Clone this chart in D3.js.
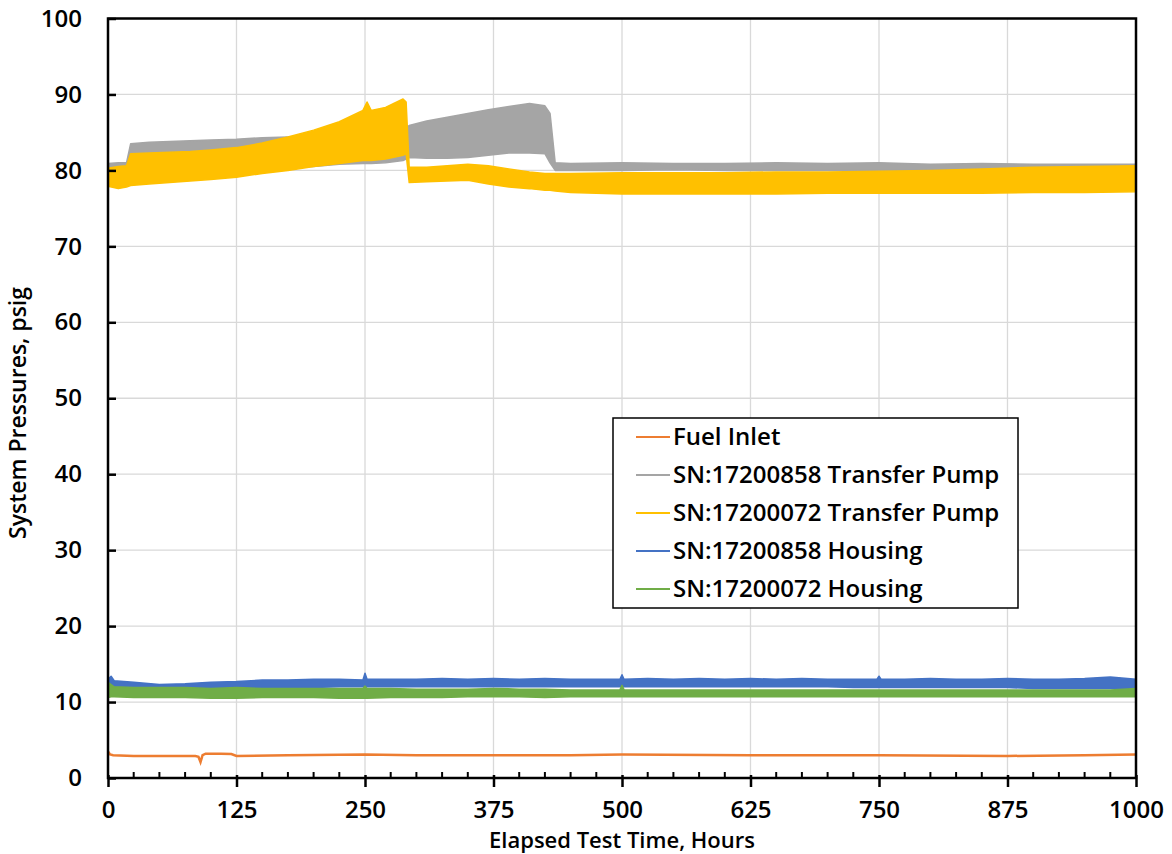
<!DOCTYPE html>
<html>
<head>
<meta charset="utf-8">
<script src="https://cdn.jsdelivr.net/npm/d3@7"></script>
<style>
  body { margin: 0; background: #fff; }
  text { font-family: "Open Sans", sans-serif; font-weight: 600; fill: #000; }
</style>
</head>
<body>
<div id="chart-area"></div>
<script>
// ---- data (psig vs hours) ----
var seriesNames = ["Fuel Inlet", "SN:17200858 Transfer Pump", "SN:17200072 Transfer Pump",
                   "SN:17200858 Housing", "SN:17200072 Housing"];
var seriesColors = ["#ED7D31", "#A5A5A5", "#FFC000", "#4472C4", "#70AD47"];

var xTicks = [0, 125, 250, 375, 500, 625, 750, 875, 1000];
var yTicks = [0, 10, 20, 30, 40, 50, 60, 70, 80, 90, 100];

// fuel inlet, a thin line
var fuelHours = [0, 2, 5, 25, 50, 85, 88, 90, 92, 95, 110, 120, 125, 175, 250, 300, 375, 450, 500, 625, 750, 875, 950, 1000];
var fuelVals  = [3.5, 3.1, 3.0, 2.9, 2.9, 2.9, 2.8, 2.1, 3.0, 3.2, 3.2, 3.15, 2.9, 3.0, 3.1, 3.0, 3.0, 3.0, 3.1, 3.0, 3.0, 2.9, 3.0, 3.1];

// transfer pumps: noisy bands, low / high envelope
var pumpHours = [0, 10, 18, 22, 40, 60, 80, 100, 125, 150, 175, 200, 225, 248, 252, 256, 270, 287, 290, 293, 310, 330, 350, 370, 390, 410, 425, 430, 435, 450, 500, 550, 600, 650, 700, 750, 800, 850, 900, 950, 1000];
var grayHi = [80.9, 81.0, 81.0, 83.5, 83.7, 83.8, 83.9, 84.0, 84.1, 84.3, 84.4, 84.5, 84.6, 84.8, 85.0, 84.9, 85.2, 85.5, 85.7, 85.9, 86.5, 87.0, 87.5, 88.0, 88.4, 88.8, 88.5, 87.5, 81.0, 80.9, 81.0, 80.9, 80.9, 81.0, 80.9, 81.0, 80.8, 80.9, 80.8, 80.8, 80.8];
var grayLo = [79.8, 79.6, 79.8, 80.2, 80.4, 80.4, 80.5, 80.5, 80.6, 80.5, 80.3, 80.5, 80.8, 80.9, 80.9, 80.9, 81.0, 81.3, 81.5, 81.7, 81.6, 81.6, 81.7, 82.0, 82.3, 82.3, 82.2, 81.0, 80.0, 80.0, 80.0, 80.1, 80.0, 80.0, 80.0, 80.0, 80.0, 80.0, 80.0, 80.0, 80.0];
var yellowHi = [80.3, 80.5, 80.6, 82.2, 82.3, 82.4, 82.5, 82.7, 83.0, 83.6, 84.4, 85.3, 86.4, 87.9, 89.0, 87.9, 88.3, 89.4, 89.0, 80.4, 80.4, 80.6, 80.8, 80.6, 80.2, 79.8, 79.6, 79.6, 79.6, 79.6, 79.7, 79.7, 79.7, 79.8, 79.8, 79.9, 80.0, 80.2, 80.4, 80.5, 80.6];
var yellowLo = [77.9, 77.6, 77.8, 78.0, 78.2, 78.4, 78.6, 78.8, 79.1, 79.6, 80.0, 80.5, 80.9, 81.3, 81.3, 81.3, 81.5, 82.0, 82.2, 78.4, 78.5, 78.6, 78.7, 78.2, 77.8, 77.6, 77.4, 77.4, 77.3, 77.1, 76.9, 76.9, 76.9, 76.9, 77.0, 77.0, 77.0, 77.0, 77.1, 77.1, 77.2];

// housings: noisy bands
var housingHours = [0, 3, 6, 25, 50, 75, 100, 125, 150, 175, 200, 225, 248, 250, 252, 275, 300, 325, 350, 375, 400, 425, 450, 475, 498, 500, 502, 525, 550, 575, 600, 625, 650, 675, 700, 725, 748, 750, 752, 775, 800, 825, 850, 875, 900, 925, 950, 975, 1000];
var blueHi = [13.0, 13.4, 12.8, 12.6, 12.3, 12.4, 12.6, 12.7, 12.9, 12.9, 13.0, 13.0, 12.9, 13.8, 13.0, 13.0, 13.0, 13.1, 13.0, 13.1, 13.0, 13.1, 13.0, 13.0, 13.0, 13.6, 13.0, 13.1, 13.0, 13.1, 13.0, 13.1, 13.0, 13.1, 13.0, 13.0, 13.0, 13.4, 13.0, 13.0, 13.1, 13.0, 13.0, 13.1, 13.0, 13.0, 13.1, 13.3, 13.0];
var blueLo = [11.8, 11.9, 11.8, 11.8, 11.8, 11.8, 11.8, 11.9, 11.9, 11.9, 11.9, 12.0, 12.0, 12.0, 12.0, 12.0, 12.0, 12.0, 12.0, 12.0, 12.0, 12.0, 12.0, 12.0, 12.0, 12.0, 12.0, 12.0, 12.0, 12.0, 12.0, 12.0, 12.0, 12.0, 12.0, 11.9, 11.9, 11.9, 11.9, 11.9, 11.9, 11.9, 11.9, 11.9, 11.8, 11.8, 11.8, 11.8, 11.8];
var greenHi = [12.6, 12.3, 12.0, 11.9, 11.9, 11.9, 11.8, 11.9, 11.8, 11.8, 11.8, 11.8, 11.8, 12.1, 11.8, 11.8, 11.7, 11.7, 11.7, 11.8, 11.7, 11.7, 11.6, 11.6, 11.6, 12.2, 11.6, 11.6, 11.6, 11.6, 11.6, 11.6, 11.6, 11.6, 11.6, 11.6, 11.6, 11.6, 11.6, 11.6, 11.6, 11.6, 11.6, 11.6, 11.6, 11.6, 11.6, 11.6, 11.8];
var greenLo = [10.6, 10.7, 10.7, 10.6, 10.6, 10.6, 10.5, 10.5, 10.6, 10.6, 10.6, 10.5, 10.5, 10.5, 10.5, 10.6, 10.6, 10.6, 10.7, 10.7, 10.7, 10.6, 10.7, 10.7, 10.7, 10.7, 10.7, 10.7, 10.7, 10.7, 10.7, 10.7, 10.7, 10.7, 10.7, 10.7, 10.7, 10.7, 10.7, 10.7, 10.7, 10.7, 10.7, 10.7, 10.7, 10.7, 10.7, 10.7, 10.7];

// ---- layout ----
var width = 1172, height = 854;
var plotLeft = 108, plotRight = 1136, plotTop = 18.5, plotBottom = 778;

var svg = d3.select("#chart-area").append("svg")
  .attr("width", width)
  .attr("height", height);

var x = d3.scaleLinear().domain([0, 1000]).range([plotLeft, plotRight]);
var y = d3.scaleLinear().domain([0, 100]).range([plotBottom, plotTop]);

// gridlines
svg.append("g").selectAll("line").data(yTicks.slice(1)).enter().append("line")
  .attr("x1", plotLeft).attr("x2", plotRight)
  .attr("y1", d => y(d)).attr("y2", d => y(d))
  .attr("stroke", "#d9d9d9").attr("stroke-width", 1.3);
svg.append("g").selectAll("line").data(xTicks.slice(1)).enter().append("line")
  .attr("x1", d => x(d)).attr("x2", d => x(d))
  .attr("y1", plotTop).attr("y2", plotBottom)
  .attr("stroke", "#d9d9d9").attr("stroke-width", 1.3);

// bands
function band(hours, lo, hi, color) {
  var pts = hours.map((h, i) => ({h: h, lo: lo[i], hi: hi[i]}));
  var area = d3.area().x(d => x(d.h)).y0(d => y(d.lo)).y1(d => y(d.hi));
  svg.append("path").datum(pts)
    .attr("d", area)
    .attr("fill", color)
    .attr("stroke", color)
    .attr("stroke-width", 1.5)
    .attr("stroke-linejoin", "round");
}

var fuelPts = fuelHours.map((h, i) => ({h: h, v: fuelVals[i]}));
svg.append("path").datum(fuelPts)
  .attr("d", d3.line().x(d => x(d.h)).y(d => y(d.v)))
  .attr("fill", "none")
  .attr("stroke", seriesColors[0])
  .attr("stroke-width", 2.5);

band(pumpHours, grayLo, grayHi, seriesColors[1]);
band(pumpHours, yellowLo, yellowHi, seriesColors[2]);
band(housingHours, blueLo, blueHi, seriesColors[3]);
band(housingHours, greenLo, greenHi, seriesColors[4]);

// plot frame
svg.append("rect")
  .attr("x", plotLeft).attr("y", plotTop)
  .attr("width", plotRight - plotLeft).attr("height", plotBottom - plotTop)
  .attr("fill", "none").attr("stroke", "#000").attr("stroke-width", 2.5);

// x axis
var xAxis = d3.axisBottom(x).tickValues(xTicks).tickSize(9).tickPadding(14).tickFormat(d3.format("d"));
var gx = svg.append("g").attr("transform", "translate(0," + plotBottom + ")").call(xAxis);
gx.select(".domain").remove();
gx.selectAll(".tick line").attr("y1", -3).attr("stroke", "#000").attr("stroke-width", 2.5);
gx.selectAll("text").style("font-size", "24px").attr("dy", "0.71em");

var minor = d3.range(25, 1000, 25).filter(d => d % 125 !== 0);
svg.append("g").selectAll("line").data(minor).enter().append("line")
  .attr("x1", d => x(d)).attr("x2", d => x(d))
  .attr("y1", plotBottom).attr("y2", plotBottom - 6)
  .attr("stroke", "#000").attr("stroke-width", 2);

// y axis
var yAxis = d3.axisLeft(y).tickValues(yTicks).tickSize(-8).tickPadding(26);
var gy = svg.append("g").attr("transform", "translate(" + plotLeft + ",0)").call(yAxis);
gy.select(".domain").remove();
gy.selectAll(".tick line").attr("stroke", "#000").attr("stroke-width", 2.5);
gy.selectAll("text").style("font-size", "24px");

// axis titles
svg.append("text")
  .attr("x", 622).attr("y", 848)
  .attr("text-anchor", "middle")
  .style("font-size", "22px")
  .text("Elapsed Test Time, Hours");
svg.append("text")
  .attr("transform", "translate(26,413) rotate(-90)")
  .attr("text-anchor", "middle")
  .style("font-size", "23px")
  .text("System Pressures, psig");

// legend
var lg = svg.append("g");
lg.append("rect")
  .attr("x", 613).attr("y", 418).attr("width", 405).attr("height", 190)
  .attr("fill", "#fff").attr("stroke", "#000").attr("stroke-width", 1.5);
var rows = lg.selectAll(".row").data(seriesNames).enter().append("g")
  .attr("transform", (d, i) => "translate(0," + (437 + i * 38) + ")");
rows.append("line")
  .attr("x1", 636).attr("x2", 670)
  .attr("stroke", (d, i) => seriesColors[i]).attr("stroke-width", 2);
rows.append("text")
  .attr("x", 673).attr("dy", "0.35em")
  .style("font-size", "24px")
  .text(d => d);
</script>
</body>
</html>
